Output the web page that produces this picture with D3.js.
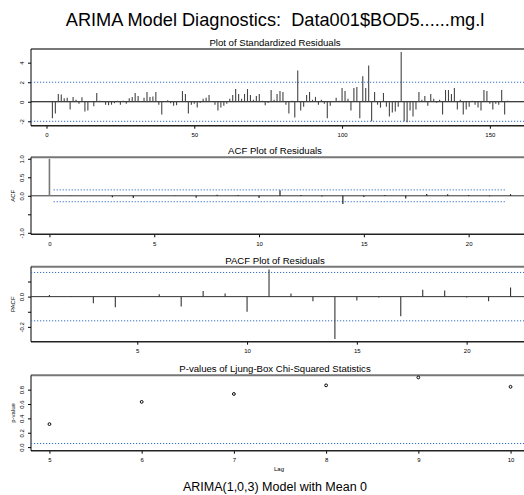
<!DOCTYPE html>
<html><head><meta charset="utf-8">
<script src="https://cdn.jsdelivr.net/npm/d3@7"></script>
<style>body{margin:0;background:#fff}svg{display:block}text{font-family:"Liberation Sans",Arial,sans-serif;white-space:pre}</style>
</head><body>
<script>
const mainTitle = "ARIMA Model Diagnostics:  Data001$BOD5......mg.l";
const subTitle = "ARIMA(1,0,3) Model with Mean 0";
const panelTitles = ["Plot of Standardized Residuals","ACF Plot of Residuals","PACF Plot of Residuals","P-values of Ljung-Box Chi-Squared Statistics"];
const residuals = [0.05,-1.7,-1.2,0.8,0.75,0.35,0.4,-0.8,0.5,0.2,
-0.2,0.45,-1.0,-0.9,0.05,-0.45,0.9,0.1,0.05,-0.3,
-0.35,-0.3,-0.15,0.1,-0.3,0.1,-0.2,0.35,0.5,0.9,
0.6,0.05,0.4,1.0,0.5,0.55,1.0,-0.3,-1.3,0.05,
0.15,-0.15,-0.4,-0.35,0.05,1.1,0.8,-1.2,-0.3,-0.2,
-0.6,-0.1,0.3,0.4,0.7,0.05,-0.3,-0.9,-0.6,-0.4,
-0.2,0.3,0.7,1.3,0.8,0.3,0.8,1.3,0.7,0.2,
0.6,0.8,0.1,-0.35,-0.1,1.2,0.2,0.8,1.1,1.0,
-0.3,-1.2,0.1,-1.6,3.2,-0.9,-0.5,0.7,1.0,0.2,
0.5,-0.3,0.2,-0.2,-1.7,-0.4,0.05,0.4,0.1,1.4,
1.1,0.3,-0.9,1.4,1.5,-1.7,2.6,1.4,3.7,-2.0,
1.0,-0.3,-0.6,0.9,-0.5,-1.5,-1.1,-1.0,-0.5,5.1,
-2.0,-2.1,-0.9,-1.5,-0.8,1.0,0.2,0.6,-0.4,0.8,
0.3,-0.1,0.2,-1.3,1.2,1.2,0.8,1.4,-0.8,0.2,
-1.3,-0.8,-0.5,0.1,-0.3,-0.6,-0.9,1.2,1.1,-0.2,
-0.8,-0.2,-0.3,1.2,-1.3,0.1,0.05];
const acfLags = d3.range(0,23);
const acfValues = [1.0,0.01,0.0,-0.04,-0.06,0.0,0.01,-0.05,0.03,0.02,-0.06,0.15,0.02,-0.02,-0.22,-0.03,0.02,-0.07,0.05,0.04,0.02,-0.01,0.04];
const pacfLags = d3.range(1,23);
const pacfValues = [0.011,0.002,-0.043,-0.07,-0.003,0.015,-0.065,0.037,0.02,-0.10,0.18,0.02,-0.03,-0.28,-0.025,-0.005,-0.13,0.045,0.04,-0.005,-0.03,0.06];
const pLags = [5,6,7,8,9,10];
const pValues = [0.32,0.63,0.74,0.86,0.97,0.84];
const residTicksX = [0,50,100,150], residTicksY = [-2,0,2,4];
const acfTicksX = [0,5,10,15,20], acfTicksY = [-1,-0.5,0,0.5,1], acfLabelsY = ["-1.0","","0.0","0.5","1.0"];
const pacfTicksX = [5,10,15,20], pacfTicksY = [-0.2,-0.1,0,0.1], pacfLabelsY = ["-0.2","","0.0",""];
const pTicksX = [5,6,7,8,9,10], pTicksY = [0,0.2,0.4,0.6,0.8], pLabelsY = ["0.0","0.2","0.4","0.6","0.8"];
const residBand = 2, acfBand = 0.16, pLine = 0.05;

const W=524,H=495,L=31,R=529;
const svg=d3.select("body").append("svg").attr("width",W).attr("height",H);
const blue="#2f6cc4";
svg.append("text").attr("x",275).attr("y",26).attr("text-anchor","middle").attr("font-size",18.2).attr("xml:space","preserve").text(mainTitle);
svg.append("text").attr("x",275).attr("y",491).attr("text-anchor","middle").attr("font-size",12.5).text(subTitle);

function panel(top,bottom,xdom,ydom,title,xt,yt,ylabs,ylab){
  const x=d3.scaleLinear().domain(xdom).range([L,R]);
  const y=d3.scaleLinear().domain(ydom).range([bottom,top]);
  const g=svg.append("g");
  g.append("text").attr("x",275).attr("y",top-3).attr("text-anchor","middle").attr("font-size",9.6).text(title);
  g.append("line").attr("x1",L).attr("x2",W).attr("y1",top).attr("y2",top).attr("stroke","#777").attr("stroke-width",2);
  const xa=g.append("g").attr("transform",`translate(0,${bottom})`).call(d3.axisBottom(x).tickValues(xt).tickSize(3).tickSizeOuter(0).tickFormat(d3.format("d")));
  xa.select(".domain").remove();
  xa.selectAll("text").attr("font-size",6).attr("font-family","Liberation Sans, Arial").attr("dy","0.9em");
  g.append("line").attr("x1",L).attr("x2",W).attr("y1",bottom).attr("y2",bottom).attr("stroke","#222").attr("stroke-width",1.5);
  const ya=g.append("g").attr("transform",`translate(${L},0)`).call(d3.axisLeft(y).tickValues(yt).tickSize(3).tickSizeOuter(0).tickFormat((d,i)=>ylabs[i]));
  ya.select(".domain").remove();
  ya.selectAll(".tick text").attr("font-size",6).attr("font-family","Liberation Sans, Arial").attr("text-anchor","middle").attr("x",0).attr("dy",0)
    .attr("transform","translate(-7,0) rotate(-90)");
  g.append("line").attr("x1",L).attr("x2",L).attr("y1",top).attr("y2",bottom).attr("stroke","#000").attr("stroke-width",1);
  if(ylab) g.append("text").attr("transform",`translate(15,${(top+bottom)/2}) rotate(-90)`).attr("text-anchor","middle").attr("font-size",6).text(ylab);
  return {g,x,y};
}
function dotted(p,v,x1,x2){
  p.g.append("line").attr("x1",x1).attr("x2",x2).attr("y1",p.y(v)).attr("y2",p.y(v)).attr("stroke",blue).attr("stroke-width",1).attr("stroke-dasharray","1.2,1.8");
}
// Panel 1
const p1=panel(49,125.7,[-5.24,163.24],[-2.45,5.4],panelTitles[0],residTicksX,residTicksY,residTicksY.map(String),null);
dotted(p1,residBand,L,W);dotted(p1,-residBand,L,W);
p1.g.append("line").attr("x1",L).attr("x2",W).attr("y1",p1.y(0)).attr("y2",p1.y(0)).attr("stroke","#000").attr("stroke-width",1);
p1.g.selectAll("line.bar").data(residuals).join("line").attr("class","bar")
  .attr("x1",(d,i)=>p1.x(i+1)).attr("x2",(d,i)=>p1.x(i+1)).attr("y1",p1.y(0)).attr("y2",d=>p1.y(d))
  .attr("stroke","#444").attr("stroke-width",1.1);
// Panel 2
const p2=panel(157.3,234.3,[-0.88,22.88],[-1.04,1.04],panelTitles[1],acfTicksX,acfTicksY,acfLabelsY,"ACF");
dotted(p2,acfBand,p2.x(0.2),p2.x(21.8));dotted(p2,-acfBand,p2.x(0.2),p2.x(21.8));
p2.g.append("line").attr("x1",L).attr("x2",W).attr("y1",p2.y(0)).attr("y2",p2.y(0)).attr("stroke","#333").attr("stroke-width",1);
p2.g.selectAll("line.bar").data(acfValues).join("line").attr("class","bar")
  .attr("x1",(d,i)=>p2.x(acfLags[i])).attr("x2",(d,i)=>p2.x(acfLags[i])).attr("y1",p2.y(0)).attr("y2",d=>p2.y(d))
  .attr("stroke",(d,i)=>i==0?"#777":"#111").attr("stroke-width",(d,i)=>i==0?1.6:1.1);
// Panel 3
const p3=panel(266.7,341.7,[0.16,22.84],[-0.298,0.198],panelTitles[2],pacfTicksX,pacfTicksY,pacfLabelsY,"PACF");
dotted(p3,acfBand,L,W);dotted(p3,-acfBand,L,W);
p3.g.append("line").attr("x1",L).attr("x2",W).attr("y1",p3.y(0)).attr("y2",p3.y(0)).attr("stroke","#333").attr("stroke-width",1);
p3.g.selectAll("line.bar").data(pacfValues).join("line").attr("class","bar")
  .attr("x1",(d,i)=>p3.x(pacfLags[i])).attr("x2",(d,i)=>p3.x(pacfLags[i])).attr("y1",p3.y(0)).attr("y2",d=>p3.y(d))
  .attr("stroke","#333").attr("stroke-width",1.1);
// Panel 4
const p4=panel(375.3,450.7,[4.8,10.2],[-0.05,1.0],panelTitles[3],pTicksX,pTicksY,pLabelsY,"p-value");
dotted(p4,pLine,L,W);
p4.g.selectAll("circle").data(pValues).join("circle").attr("cx",(d,i)=>p4.x(pLags[i])).attr("cy",d=>p4.y(d)).attr("r",1.4)
  .attr("fill","#fff").attr("stroke","#000").attr("stroke-width",1);
svg.append("text").attr("x",279).attr("y",471).attr("text-anchor","middle").attr("font-size",6).text("Lag");
</script>
</body></html>
